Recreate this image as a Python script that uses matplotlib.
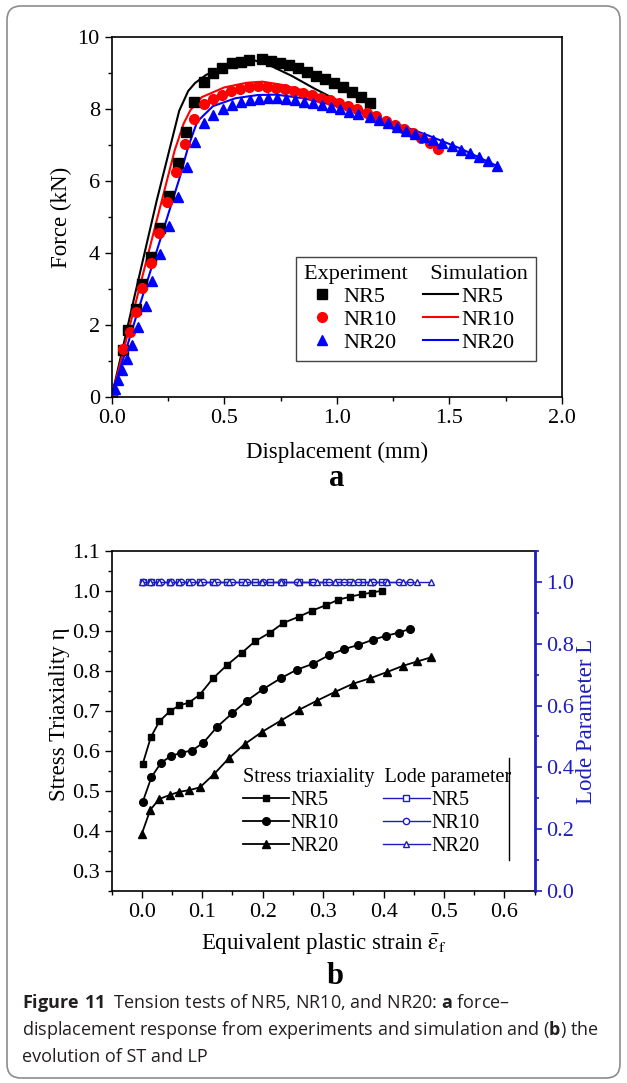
"""
Figure 11: force-displacement of NR5/NR10/NR20 tension tests (a)
and evolution of stress triaxiality / Lode parameter (b)
"""

import numpy as np
import matplotlib
matplotlib.use("Agg")
import matplotlib.pyplot as plt
from matplotlib.patches import FancyBboxPatch
from matplotlib.ticker import MultipleLocator, FormatStrFormatter

plt.rcParams["font.family"] = ["Liberation Serif", "DejaVu Serif"]
plt.rcParams["mathtext.fontset"] = "custom"
plt.rcParams["mathtext.rm"] = "Open Sans"
plt.rcParams["mathtext.bf"] = "Open Sans:bold"

# ---- (a) experiments ----
nr5_exp_x = [0.0, 0.05, 0.075, 0.107, 0.134, 0.174, 0.216, 0.257, 0.293, 0.331, 0.368,
             0.408, 0.452, 0.492, 0.533, 0.573, 0.611, 0.666, 0.706, 0.746, 0.786,
             0.826, 0.866, 0.906, 0.946, 0.986, 1.026, 1.067, 1.106, 1.147]
nr5_exp_y = [0.1, 1.32, 1.86, 2.45, 3.14, 3.90, 4.70, 5.58, 6.51, 7.37, 8.19,
             8.76, 8.99, 9.15, 9.27, 9.32, 9.36, 9.38, 9.33, 9.29, 9.21,
             9.13, 9.03, 8.93, 8.83, 8.71, 8.60, 8.46, 8.33, 8.18]

nr10_exp_x = [0.0, 0.052, 0.082, 0.110, 0.137, 0.174, 0.210, 0.248, 0.287, 0.328, 0.368,
              0.408, 0.450, 0.490, 0.530, 0.570, 0.610, 0.650, 0.690, 0.731, 0.771,
              0.811, 0.851, 0.891, 0.931, 0.971, 1.011, 1.051, 1.090, 1.134, 1.176,
              1.217, 1.257, 1.297, 1.337, 1.374, 1.412, 1.451]
nr10_exp_y = [0.1, 1.33, 1.81, 2.37, 3.02, 3.73, 4.56, 5.43, 6.25, 7.04, 7.73,
              8.13, 8.28, 8.40, 8.50, 8.57, 8.62, 8.63, 8.62, 8.59, 8.56,
              8.51, 8.45, 8.39, 8.32, 8.24, 8.16, 8.08, 7.99, 7.90, 7.81,
              7.68, 7.56, 7.44, 7.33, 7.19, 7.05, 6.89]

nr20_exp_x = [0.013, 0.027, 0.045, 0.067, 0.092, 0.119, 0.152, 0.180, 0.216, 0.254, 0.293,
              0.334, 0.371, 0.411, 0.452, 0.494, 0.534, 0.574, 0.614, 0.654, 0.694,
              0.734, 0.774, 0.814, 0.854, 0.894, 0.934, 0.974, 1.014, 1.054, 1.094,
              1.147, 1.188, 1.228, 1.268, 1.309, 1.349, 1.389, 1.429, 1.469, 1.509,
              1.549, 1.589, 1.629, 1.669, 1.712]
nr20_exp_y = [0.22, 0.47, 0.75, 1.06, 1.44, 1.95, 2.53, 3.22, 3.97, 4.76, 5.57,
              6.40, 7.09, 7.62, 7.83, 7.99, 8.11, 8.20, 8.25, 8.29, 8.31,
              8.31, 8.29, 8.25, 8.20, 8.16, 8.11, 8.05, 7.99, 7.93, 7.86,
              7.79, 7.69, 7.60, 7.49, 7.40, 7.32, 7.23, 7.14, 7.06, 6.97,
              6.86, 6.77, 6.68, 6.56, 6.43]

# ---- (a) simulation ----
nr5_sim_x = [0.0, 0.10, 0.20, 0.30, 0.34, 0.37, 0.42, 0.50, 0.58, 0.63, 0.70, 0.80,
             0.90, 1.00, 1.10, 1.15]
nr5_sim_y = [0.0, 2.75, 5.45, 7.95, 8.50, 8.72, 8.95, 9.18, 9.32, 9.36, 9.22, 8.92,
             8.57, 8.25, 7.95, 7.80]
nr10_sim_x = [0.0, 0.10, 0.20, 0.28, 0.32, 0.35, 0.40, 0.50, 0.60, 0.67, 0.75, 0.85,
              0.95, 1.05, 1.15, 1.25, 1.35, 1.45]
nr10_sim_y = [0.0, 2.45, 4.90, 6.85, 7.60, 7.97, 8.33, 8.60, 8.73, 8.76, 8.68, 8.52,
              8.33, 8.13, 7.86, 7.58, 7.28, 6.92]
nr20_sim_x = [0.0, 0.10, 0.20, 0.30, 0.34, 0.38, 0.45, 0.55, 0.65, 0.73, 0.85, 0.95,
              1.10, 1.25, 1.40, 1.55, 1.71]
nr20_sim_y = [0.0, 2.05, 4.05, 6.05, 6.95, 7.65, 8.08, 8.30, 8.39, 8.40, 8.30, 8.16,
              7.92, 7.62, 7.28, 6.90, 6.42]

# ---- (b) stress triaxiality and Lode parameter ----
st5_x = [0.0015, 0.015, 0.029, 0.046, 0.062, 0.078, 0.096, 0.118, 0.141, 0.165, 0.187,
         0.212, 0.234, 0.260, 0.282, 0.305, 0.325, 0.345, 0.364, 0.381, 0.397]
st5_y = [0.568, 0.635, 0.674, 0.699, 0.714, 0.721, 0.741, 0.782, 0.815, 0.845, 0.874,
         0.896, 0.920, 0.936, 0.951, 0.965, 0.978, 0.986, 0.992, 0.996, 1.001]
st10_x = [0.0015, 0.016, 0.032, 0.048, 0.065, 0.083, 0.102, 0.125, 0.150, 0.174, 0.201,
          0.230, 0.256, 0.283, 0.309, 0.335, 0.358, 0.382, 0.404, 0.425, 0.443]
st10_y = [0.473, 0.535, 0.571, 0.587, 0.596, 0.601, 0.621, 0.661, 0.695, 0.726, 0.755,
          0.782, 0.803, 0.818, 0.839, 0.855, 0.865, 0.878, 0.888, 0.896, 0.905]
st20_x = [0.0, 0.014, 0.029, 0.046, 0.062, 0.078, 0.096, 0.120, 0.144, 0.170, 0.199,
          0.230, 0.260, 0.290, 0.320, 0.349, 0.378, 0.405, 0.432, 0.456, 0.478]
st20_y = [0.393, 0.453, 0.480, 0.490, 0.498, 0.502, 0.509, 0.543, 0.582, 0.617, 0.648,
          0.676, 0.703, 0.726, 0.748, 0.768, 0.782, 0.797, 0.813, 0.824, 0.834]
lp5_y = [1.0, 1.0, 1.0, 1.0, 1.0, 1.0, 1.0, 1.0, 1.0, 1.0, 1.0,
         1.0, 1.0, 1.0, 1.0, 1.0, 1.0, 1.0, 1.0, 1.0, 1.0]
lp10_y = [1.0, 1.0, 1.0, 1.0, 1.0, 1.0, 1.0, 1.0, 1.0, 1.0, 1.0,
          1.0, 1.0, 1.0, 1.0, 1.0, 1.0, 1.0, 1.0, 1.0, 1.0]
lp20_y = [1.0, 1.0, 1.0, 1.0, 1.0, 1.0, 1.0, 1.0, 1.0, 1.0, 1.0,
          1.0, 1.0, 1.0, 1.0, 1.0, 1.0, 1.0, 1.0, 1.0, 1.0]

BLUE = "#1c1cc0"
SERIF = ["Liberation Serif", "DejaVu Serif"]
TICK_FS = 16
LABEL_FS = 16.5

fig = plt.figure(figsize=(6.27, 10.83), dpi=100)


def style_axis(ax):
    ax.tick_params(which="both", direction="out", top=False, right=False,
                   labelsize=TICK_FS, width=1.0)
    ax.tick_params(which="major", length=5)
    ax.tick_params(which="minor", length=3)
    for s in ax.spines.values():
        s.set_linewidth(1.2)


# ================= (a) =================
ax1 = fig.add_axes([0.178, 0.6334, 0.7185, 0.3324])
ax1.plot(nr5_sim_x, nr5_sim_y, color="black", lw=1.5)
ax1.plot(nr10_sim_x, nr10_sim_y, color="red", lw=1.5)
ax1.plot(nr20_sim_x, nr20_sim_y, color="blue", lw=1.5)
h5, = ax1.plot(nr5_exp_x, nr5_exp_y, "s", color="black", ms=6.5, ls="none")
h10, = ax1.plot(nr10_exp_x, nr10_exp_y, "o", color="red", ms=7, ls="none")
h20, = ax1.plot(nr20_exp_x, nr20_exp_y, "^", color="blue", ms=7.5, ls="none")
l5, = ax1.plot([], [], color="black", lw=1.5)
l10, = ax1.plot([], [], color="red", lw=1.5)
l20, = ax1.plot([], [], color="blue", lw=1.5)

ax1.set_xlim(0, 2.0)
ax1.set_ylim(0, 10)
ax1.xaxis.set_major_locator(MultipleLocator(0.5))
ax1.xaxis.set_minor_locator(MultipleLocator(0.25))
ax1.xaxis.set_major_formatter(FormatStrFormatter("%.1f"))
ax1.yaxis.set_major_locator(MultipleLocator(2))
ax1.yaxis.set_minor_locator(MultipleLocator(1))
style_axis(ax1)
ax1.set_xlabel("Displacement (mm)", fontsize=LABEL_FS)
ax1.set_ylabel("Force (kN)", fontsize=LABEL_FS)
ax1.xaxis.set_label_coords(0.5, -0.125)
ax1.yaxis.set_label_coords(-0.088, 0.5)

leg1 = ax1.legend([h5, h10, h20, l5, l10, l20], ["NR5", "NR10", "NR20"] * 2,
                  ncol=2, title="Experiment    Simulation", alignment="left",
                  loc="lower left", bbox_to_anchor=(0.41, 0.10),
                  prop={"family": SERIF, "size": 16},
                  title_fontproperties={"family": SERIF, "size": 16},
                  frameon=True, fancybox=False,
                  edgecolor="#444444", framealpha=1, handlelength=1.6,
                  handletextpad=0.15, columnspacing=1.2, labelspacing=0.12,
                  borderpad=0.35, borderaxespad=0)
leg1.get_frame().set_linewidth(1.0)

fig.text(337 / 627, 1 - 478 / 1083, "a", fontsize=22, fontweight="bold",
         ha="center", va="center")

# ================= (b) =================
ax = fig.add_axes([0.178, 0.1773, 0.6748, 0.3139])
s5, = ax.plot(st5_x, st5_y, "-s", color="black", ms=5, lw=1.3)
s10, = ax.plot(st10_x, st10_y, "-o", color="black", ms=5.5, lw=1.3)
s20, = ax.plot(st20_x, st20_y, "-^", color="black", ms=6, lw=1.3)
ax.set_xlim(-0.05, 0.65)
ax.set_ylim(0.25, 1.1)
ax.xaxis.set_major_locator(MultipleLocator(0.1))
ax.xaxis.set_minor_locator(MultipleLocator(0.05))
ax.xaxis.set_major_formatter(FormatStrFormatter("%.1f"))
ax.yaxis.set_major_locator(MultipleLocator(0.1))
ax.yaxis.set_minor_locator(MultipleLocator(0.05))
ax.yaxis.set_major_formatter(FormatStrFormatter("%.1f"))
style_axis(ax)
ax.spines["right"].set_visible(False)
ax.set_xlabel(r"Equivalent plastic strain $\bar{\mathrm{\varepsilon}}_\mathrm{f}$",
              fontsize=LABEL_FS, math_fontfamily="stix")
ax.set_ylabel("Stress Triaxiality η", fontsize=LABEL_FS)
ax.xaxis.set_label_coords(0.5, -0.118)
ax.yaxis.set_label_coords(-0.098, 0.52)

ax2 = ax.twinx()
p5, = ax2.plot(st5_x, lp5_y, "-s", color=BLUE, mfc="white", mec=BLUE, ms=4.5, lw=1.0)
p10, = ax2.plot(st10_x, lp10_y, "-o", color=BLUE, mfc="white", mec=BLUE, ms=4.5, lw=1.0)
p20, = ax2.plot(st20_x, lp20_y, "-^", color=BLUE, mfc="white", mec=BLUE, ms=5, lw=1.0)
ax2.set_ylim(0, 1.1)
ax2.yaxis.set_major_locator(MultipleLocator(0.2))
ax2.yaxis.set_minor_locator(MultipleLocator(0.1))
ax2.yaxis.set_major_formatter(FormatStrFormatter("%.1f"))
ax2.tick_params(which="both", direction="out", colors=BLUE, labelsize=TICK_FS, width=1.2)
ax2.tick_params(which="major", length=5)
ax2.tick_params(which="minor", length=3)
ax2.spines["right"].set_color(BLUE)
ax2.spines["right"].set_linewidth(2.0)
for side in ["left", "top", "bottom"]:
    ax2.spines[side].set_visible(False)
ax2.set_ylabel("Lode Parameter L", fontsize=LABEL_FS, color=BLUE)
ax2.yaxis.set_label_coords(1.098, 0.5)

leg2 = ax2.legend([s5, s10, s20, p5, p10, p20], ["NR5", "NR10", "NR20"] * 2,
                  ncol=2, title="Stress triaxiality  Lode parameter", alignment="left",
                  loc="lower left", bbox_to_anchor=(0.30, 0.09),
                  prop={"family": SERIF, "size": 14.5},
                  title_fontproperties={"family": SERIF, "size": 14.5},
                  frameon=False,
                  handlelength=2.3, handletextpad=0.1, columnspacing=2.2,
                  labelspacing=0.2, borderpad=0.2, borderaxespad=0)
# thin rule on the right of the legend block
ax2.plot([0.939, 0.939], [0.09, 0.39], color="black", lw=1.0,
         transform=ax2.transAxes, clip_on=False)

fig.text(335 / 627, 1 - 977 / 1083, "b", fontsize=22, fontweight="bold",
         ha="center", va="center")

# ================= caption and frame =================
cap_kw = dict(fontsize=13, family="Open Sans", color="#231f20",
              ha="left", va="center")
fig.text(22 / 627, 1 - 1003 / 1083,
         r"$\mathbf{Figure\ 11}$  Tension tests of NR5, NR10, and NR20: $\mathbf{a}$ force–",
         **cap_kw)
fig.text(22 / 627, 1 - 1030 / 1083,
         r"displacement response from experiments and simulation and ($\mathbf{b}$) the",
         **cap_kw)
fig.text(22 / 627, 1 - 1057 / 1083, "evolution of ST and LP", **cap_kw)

frame = FancyBboxPatch((7, 5), 613, 1072, boxstyle="round,pad=0,rounding_size=14",
                       transform=None, fill=False, edgecolor="#8c8c8c", lw=1.2)
fig.add_artist(frame)

fig.savefig("out.png", dpi=100)
